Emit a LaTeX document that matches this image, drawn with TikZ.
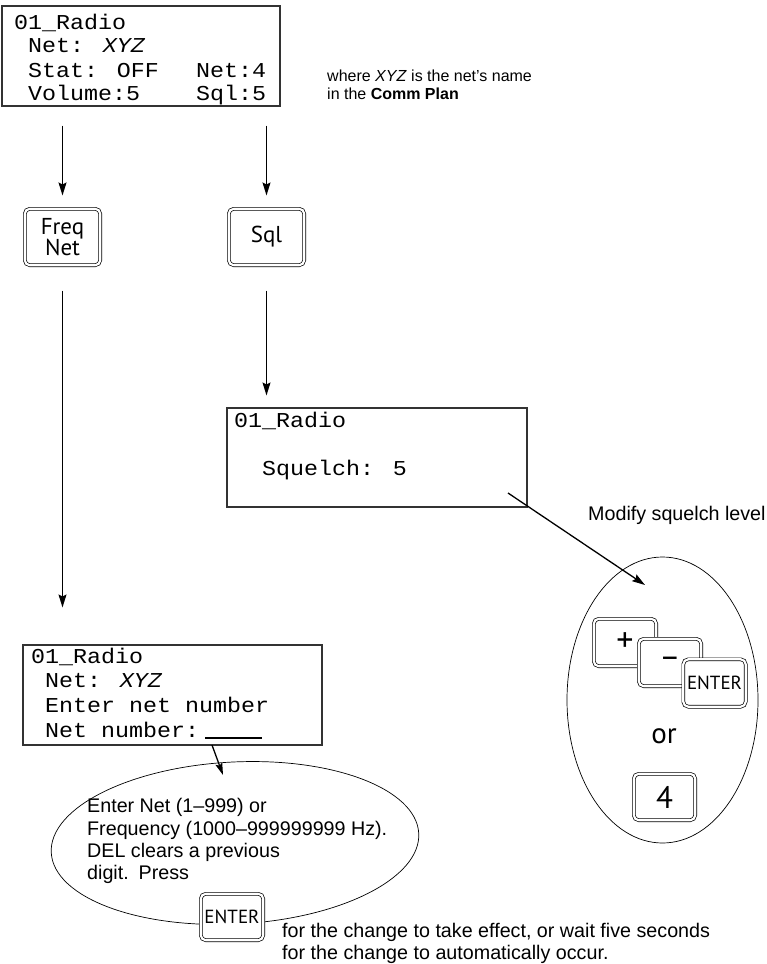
\documentclass[tikz,border=0pt]{standalone}
\usepackage{fontspec}
\setmainfont{Liberation Sans}
\newfontfamily\dispfont[FakeStretch=1.1]{Liberation Mono}
\newfontfamily\keyfont{PT Sans}
\usetikzlibrary{shapes.geometric, arrows.meta}

\begin{document}
\begin{tikzpicture}[x=1pt, y=-1pt,
  display/.style={draw=black!80, line width=1.1pt, inner sep=0pt},
  lcd/.style={anchor=base west, inner sep=0pt, font=\dispfont\fontsize{21.2}{26}\selectfont},
  note/.style={anchor=base west, inner sep=0pt, font=\fontsize{19.7}{22}\selectfont},
  smallnote/.style={anchor=base west, inner sep=0pt, font=\fontsize{16}{19}\selectfont},
  keycap/.style={draw=black, line width=0.7pt, double=white, double distance=2.2pt,
    fill=white, rounded corners=5pt, inner sep=0pt, align=center},
  keyfnt/.style={font=\keyfont\fontsize{#1}{22}\selectfont},
  flow/.style={line width=1.3pt, -{Stealth[length=13pt, width=8pt, inset=2pt]}},
  bubble/.style={draw, ellipse, line width=0.7pt, inner sep=0pt}
]
\useasboundingbox (0,0) rectangle (766,964);

% ---------- radio display: main screen ----------
\node[display, minimum width=278pt, minimum height=100pt] (top) at (141,56) {};
\node[lcd] (t1) at (14,29) {01\_Radio};
\node[lcd] (t2) at (28,52) {Net: \textit{XYZ}};
\node[lcd] (t3) at (28,77) {Stat: OFF};
\node[lcd] (t3b) at (196,77) {Net:4};
\node[lcd] (t4) at (28,100) {Volume:5};
\node[lcd] (t4b) at (196,100) {Sql:5};

\node[smallnote] (where1) at (327,81) {where \textit{XYZ} is the net’s name};
\node[smallnote] (where2) at (327,99) {in the \textbf{Comm Plan}};

% ---------- keys ----------
\node[keycap, keyfnt=23, minimum width=75.4pt, minimum height=56.4pt] (freq) at (62.5,237) {Freq\\[-1pt]Net};
\node[keycap, keyfnt=23, minimum width=75.4pt, minimum height=56.4pt] (sql) at (266.5,237) {Sql};

\draw[flow, shorten <=19pt, shorten >=13pt] (top.south -| freq.north) -- (freq.north);
\draw[flow, shorten <=19pt, shorten >=13pt] (top.south -| sql.north) -- (sql.north);

% ---------- squelch display ----------
\node[display, minimum width=300pt, minimum height=99pt] (squelch) at (377,457.5) {};
\node[lcd] (s1) at (234,427) {01\_Radio};
\node[lcd] (s2) at (262,475) {Squelch: 5};

\draw[flow, shorten <=25pt, shorten >=12pt] (sql.south) -- (sql.south |- squelch.north);

% ---------- net entry display ----------
\node[display, minimum width=299pt, minimum height=100pt] (netbox) at (172.5,695) {};
\node[lcd] (n1) at (31,663) {01\_Radio};
\node[lcd] (n2) at (45,687) {Net: \textit{XYZ}};
\node[lcd] (n3) at (45,712) {Enter net number};
\node[lcd] (n4) at (45,737) {Net number:};
\coordinate (blankA) at (205,738);
\coordinate (blankB) at (262,738);
\draw[line width=2pt] (blankA) -- (blankB);

\draw[flow, shorten <=25pt, shorten >=37pt] (freq.south) -- (freq.south |- netbox.north);

% ---------- squelch adjustment ----------
\node[note] (modify) at (588,520) {Modify squelch level};
\node[bubble, minimum width=191pt, minimum height=286pt] (opts) at (662.5,700) {};
\coordinate (sqfrom) at (508,493);
\coordinate (sqto) at (645,585);
\draw[flow] (sqfrom) -- (sqto);

\node[keycap, keyfnt=34, minimum width=62.4pt, minimum height=47.4pt] (plus) at (625,642.5) {+};
\node[keycap, keyfnt=32, minimum width=62.4pt, minimum height=47.4pt] (minus) at (670,662.5) {–};
\node[keycap, keyfnt=19, minimum width=62.4pt, minimum height=47.4pt] (enterA) at (714.5,683) {ENTER};
\node[inner sep=0pt, keyfnt=29] (ortext) at (664,736) {or};
\node[keycap, keyfnt=31, minimum width=61.4pt, minimum height=46.4pt] (four) at (664.5,797) {4};

% ---------- net entry hint ----------
\node[bubble, minimum width=368pt, minimum height=162pt, rotate=3] (hint) at (235,843) {};
\coordinate (nfrom) at (212,745);
\coordinate (nto) at (223,775);
\draw[flow, -{Stealth[length=12pt, width=7pt, inset=2pt]}] (nfrom) -- (nto);

\node[note] (h1) at (87,812) {Enter Net (1–999) or};
\node[note] (h2) at (87,835) {Frequency (1000–999999999 Hz).};
\node[note] (h3) at (87,857) {DEL clears a previous};
\node[note] (h4) at (87,879) {digit.\enspace Press};

\node[keycap, keyfnt=19, minimum width=62.4pt, minimum height=46.4pt] (enterB) at (232,917) {ENTER};
\node[note] (after1) at (282,937) {for the change to take effect, or wait five seconds};
\node[note] (after2) at (282,959) {for the change to automatically occur.};
\end{tikzpicture}
\end{document}
